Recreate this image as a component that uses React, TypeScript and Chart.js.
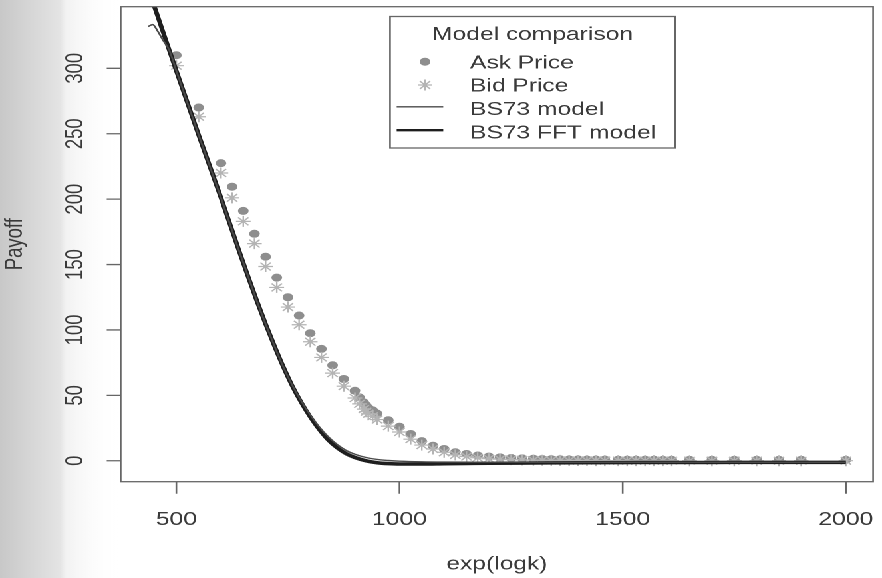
import React, { useEffect, useRef } from "react";
import { Chart, registerables } from "chart.js";

Chart.register(...registerables);

// ---- data ----
const quoteStrikes = [450, 500, 550, 600, 625, 650, 675, 700, 725, 750, 775, 800, 825, 850, 875, 900, 910, 920, 925, 930, 940, 950, 975, 1000, 1025, 1050, 1075, 1100, 1125, 1150, 1175, 1200, 1225, 1250, 1275, 1300, 1320, 1340, 1360, 1380, 1400, 1420, 1440, 1460, 1490, 1510, 1530, 1550, 1570, 1590, 1610, 1650, 1700, 1750, 1800, 1850, 1900, 2000];
const askPrices = [358, 310, 270, 227.5, 209.5, 191, 173.5, 156, 140, 125, 111, 97.5, 85.5, 73, 62.5, 53.5, 48.5, 44.5, 42.5, 40.5, 38.5, 36, 31, 26, 20.5, 15, 11.5, 9, 6.5, 5.2, 4, 3.2, 2.6, 2.1, 1.8, 1.5, 1.3, 1.2, 1.1, 1, 1, 0.9, 0.9, 0.9, 0.8, 0.8, 0.8, 0.8, 0.8, 0.7, 0.7, 0.7, 0.7, 0.7, 0.7, 0.7, 0.7, 0.7];
const bidPrices = [350, 302, 263, 220, 201, 183, 166, 148.5, 132.5, 117.5, 104, 91, 79, 67, 57, 48, 43.5, 39.5, 37.5, 36, 34, 31.5, 26.5, 22, 16.5, 12, 9, 6.5, 4.5, 3.2, 2.3, 1.6, 1.2, 0.9, 0.7, 0.5, 0.4, 0.3, 0.3, 0.2, 0.2, 0.2, 0.15, 0.15, 0.1, 0.1, 0.1, 0.1, 0.1, 0.1, 0.1, 0.05, 0.05, 0.05, 0.05, 0.05, 0.05, 0.05];

const modelStrikes = [437, 447, 458, 470, 484, 500, 550, 600, 640, 680, 700, 720, 740, 760, 780, 800, 820, 840, 860, 880, 900, 925, 950, 975, 1000, 1050, 1100, 1200, 1400, 1600, 2000];
const bs73Model = [332, 333.4, 328.5, 321.5, 314, 298, 249, 201, 161, 122.5, 104.5, 87.5, 71.5, 57.5, 45.5, 35, 26, 18.5, 12.5, 8, 5, 2.5, 1, 0.2, -0.3, -0.8, -1, -1.1, -1.2, -1.2, -1.2];

const fftStrikes = [437, 450, 500, 550, 600, 640, 660, 680, 700, 720, 740, 760, 780, 800, 820, 840, 860, 880, 900, 925, 950, 975, 1000, 1050, 1100, 1150, 1200, 1300, 1400, 1500, 1600, 1700, 1800, 1900, 2000];
const bs73FftModel = [361, 348, 298, 249, 201, 161, 141.5, 122.5, 104.5, 87.5, 71.5, 57, 44.5, 33.5, 24, 16, 10, 5.5, 2.5, 0, -1.5, -2.2, -2.5, -2.5, -2.3, -2.1, -1.9, -1.7, -1.5, -1.4, -1.3, -1.3, -1.2, -1.2, -1.2];

const xTicks = [500, 1000, 1500, 2000];
const yTicks = [0, 50, 100, 150, 200, 250, 300];
const legendTitle = "Model comparison";
const seriesNames = ["Ask Price", "Bid Price", "BS73 model", "BS73 FFT model"];
const xTitle = "exp(logk)";
const yTitle = "Payoff";

// ---- styling / layout ----
const CANVAS_W = 663;
const CANVAS_H = 578;
const STRETCH = 882 / CANVAS_W;
const FONT = '18.5px "Liberation Sans", Arial, Helvetica, sans-serif';
const TEXT_COLOR = "#3a3a3a";
const AXIS_COLOR = "#666666";
const ASK_COLOR = "#8e8e8e";
const BID_COLOR = "#b4b4b4";
const THIN_COLOR = "#4a4a4a";
const THICK_COLOR = "#1e1e1e";

function drawStar(ctx: CanvasRenderingContext2D, x: number, y: number, r: number) {
  ctx.beginPath();
  for (let i = 0; i < 4; i++) {
    const a = (i * Math.PI) / 4;
    ctx.moveTo(x - Math.cos(a) * r, y - Math.sin(a) * r);
    ctx.lineTo(x + Math.cos(a) * r, y + Math.sin(a) * r);
  }
  ctx.stroke();
}

const decorPlugin = {
  id: "rDecor",
  beforeDraw(chart: any) {
    const { ctx, width, height } = chart;
    ctx.save();
    ctx.fillStyle = "#ffffff";
    ctx.fillRect(0, 0, width, height);
    const g = ctx.createLinearGradient(0, 0, 90, 0);
    g.addColorStop(0, "#c8c8c8");
    g.addColorStop(0.5, "#e4e4e4");
    g.addColorStop(0.55, "#f2f2f2");
    g.addColorStop(1, "rgba(255,255,255,0)");
    ctx.fillStyle = g;
    ctx.fillRect(0, 0, 90, height);
    ctx.restore();
  },
  afterDraw(chart: any) {
    const { ctx, chartArea: a, scales } = chart;
    const xs = scales.x;
    const ys = scales.y;
    ctx.save();
    // plot box
    ctx.strokeStyle = AXIS_COLOR;
    ctx.lineWidth = 1.3;
    ctx.strokeRect(a.left, a.top, a.right - a.left, a.bottom - a.top);
    // tick marks
    ctx.beginPath();
    for (const v of xTicks) {
      const px = xs.getPixelForValue(v);
      ctx.moveTo(px, a.bottom);
      ctx.lineTo(px, a.bottom + 12);
    }
    for (const v of yTicks) {
      const py = ys.getPixelForValue(v);
      ctx.moveTo(a.left, py);
      ctx.lineTo(a.left - 10.5, py);
    }
    ctx.stroke();

    // tick labels
    ctx.fillStyle = TEXT_COLOR;
    ctx.font = FONT;
    ctx.textAlign = "center";
    ctx.textBaseline = "alphabetic";
    for (const v of xTicks) ctx.fillText(String(v), xs.getPixelForValue(v), 525);
    for (const v of yTicks) {
      ctx.save();
      ctx.translate(62.2, ys.getPixelForValue(v));
      ctx.rotate(-Math.PI / 2);
      ctx.fillText(String(v), 0, 0);
      ctx.restore();
    }
    // axis titles
    ctx.fillText(xTitle, (a.left + a.right) / 2, 569.5);
    ctx.save();
    ctx.translate(16.5, (a.top + a.bottom) / 2);
    ctx.rotate(-Math.PI / 2);
    ctx.fillText(yTitle, 0, 0);
    ctx.restore();

    // legend
    const lx = 293.2, ly = 16.5, lw = 214.2, lh = 131.5;
    ctx.fillStyle = "#ffffff";
    ctx.fillRect(lx, ly, lw, lh);
    ctx.strokeStyle = AXIS_COLOR;
    ctx.lineWidth = 1.3;
    ctx.strokeRect(lx, ly, lw, lh);
    ctx.fillStyle = TEXT_COLOR;
    ctx.textAlign = "center";
    ctx.fillText(legendTitle, 400.3, 40);
    ctx.textAlign = "left";
    const rowsY = [61.7, 85, 108.3, 131.7];
    seriesNames.forEach((name, i) => {
      ctx.fillStyle = TEXT_COLOR;
      ctx.fillText(name, 353.3, rowsY[i] + 6.6);
    });
    // symbols
    ctx.fillStyle = ASK_COLOR;
    ctx.beginPath();
    ctx.arc(319.5, rowsY[0], 4, 0, Math.PI * 2);
    ctx.fill();
    ctx.strokeStyle = BID_COLOR;
    ctx.lineWidth = 1.2;
    drawStar(ctx, 319.5, rowsY[1], 5.5);
    ctx.strokeStyle = THIN_COLOR;
    ctx.lineWidth = 1.4;
    ctx.beginPath();
    ctx.moveTo(298.2, rowsY[2] - 1.5);
    ctx.lineTo(333.2, rowsY[2] - 1.5);
    ctx.stroke();
    ctx.strokeStyle = THICK_COLOR;
    ctx.lineWidth = 2.4;
    ctx.beginPath();
    ctx.moveTo(298.2, rowsY[3] - 1.5);
    ctx.lineTo(333.2, rowsY[3] - 1.5);
    ctx.stroke();
    ctx.restore();
  },
};

export default function App() {
  const ref = useRef<HTMLCanvasElement>(null);
  useEffect(() => {
    const canvas = ref.current;
    if (!canvas) return;
    const chart = new Chart(canvas, {
      type: "scatter",
      data: {
        datasets: [
          {
            label: seriesNames[3],
            data: fftStrikes.map((x, i) => ({ x, y: bs73FftModel[i] })),
            showLine: true,
            borderColor: THICK_COLOR,
            borderWidth: 3.5,
            pointRadius: 0,
            cubicInterpolationMode: "monotone",
            clip: 0,
            order: 1,
          },
          {
            label: seriesNames[2],
            data: modelStrikes.map((x, i) => ({ x, y: bs73Model[i] })),
            showLine: true,
            borderColor: THIN_COLOR,
            borderWidth: 1.4,
            pointRadius: 0,
            cubicInterpolationMode: "monotone",
            clip: 0,
            order: 0,
          },
          {
            label: seriesNames[1],
            data: quoteStrikes.map((x, i) => ({ x, y: bidPrices[i] })),
            pointStyle: "star",
            pointRadius: 5.5,
            borderColor: BID_COLOR,
            backgroundColor: BID_COLOR,
            pointBorderWidth: 1.2,
            showLine: false,
            clip: 0,
            order: 2,
          },
          {
            label: seriesNames[0],
            data: quoteStrikes.map((x, i) => ({ x, y: askPrices[i] })),
            pointStyle: "circle",
            pointRadius: 4,
            backgroundColor: ASK_COLOR,
            borderColor: ASK_COLOR,
            pointBorderWidth: 0,
            showLine: false,
            clip: 0,
            order: 3,
          },
        ] as any,
      },
      options: {
        responsive: false,
        animation: false,
        devicePixelRatio: 2,
        events: [],
        layout: { padding: { left: 90.73, right: 3.98, top: 6, bottom: 96.3 } },
        plugins: { legend: { display: false }, tooltip: { enabled: false } },
        scales: {
          x: { type: "linear", display: false, min: 375.3, max: 2061 },
          y: { type: "linear", display: false, min: -16, max: 347.1 },
        },
      },
      plugins: [decorPlugin],
    });
    return () => chart.destroy();
  }, []);
  return (
    <div
      style={{
        position: "fixed",
        left: 0,
        top: 0,
        width: CANVAS_W,
        height: CANVAS_H,
        transform: `scaleX(${STRETCH})`,
        transformOrigin: "0 0",
        background: "#ffffff",
      }}
    >
      <canvas ref={ref} width={CANVAS_W} height={CANVAS_H} style={{ display: "block" }} />
    </div>
  );
}
